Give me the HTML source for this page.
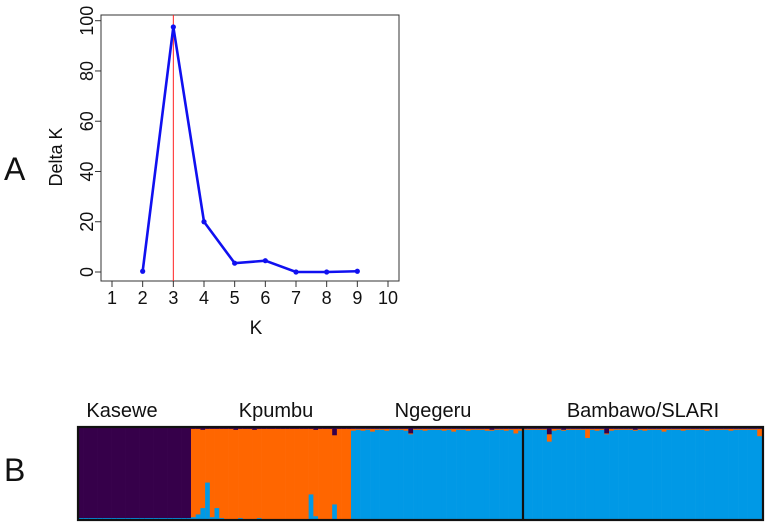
<!DOCTYPE html>
<html><head><meta charset="utf-8"><style>
html,body{margin:0;padding:0;background:#fff;}
svg text{font-family:"Liberation Sans",Arial,sans-serif;fill:#111;}
</style></head><body>
<svg id="fig" width="766" height="524" viewBox="0 0 766 524" xmlns="http://www.w3.org/2000/svg">
<text x="4" y="180" font-size="32">A</text>
<text x="4" y="481" font-size="32">B</text>
<g id="chartA"></g>
<g id="chartB"></g>
</svg>
<script>
const kValues=[2,3,4,5,6,7,8,9];
const deltaK=[0.3,97.5,20,3.5,4.5,0,0,0.3];
const xTicks=[1,2,3,4,5,6,7,8,9,10];
const yTicks=[0,20,40,60,80,100];
const bestK=3;
const popNames=["Kasewe","Kpumbu","Ngegeru","Bambawo/SLARI"];
const popCounts=[24,34,36,50];
const kaseweBlue=[0.01,0.01,0.01,0.01,0.01,0.01,0.01,0.01,0.01,0.01,0.01,0.01,0.01,0.01,0.01,0.01,0.01,0.01,0.01,0.01,0.01,0.01,0.01,0.01];
const kpumbuBlue=[0.02,0.05,0.12,0.4,0.02,0.12,0.01,0,0,0,0.01,0,0,0,0.01,0,0,0,0,0,0,0,0,0,0,0.27,0.03,0,0,0,0.16,0,0,0];
const kpumbuPurple=[0.01,0.01,0.02,0.01,0.01,0.01,0.01,0.01,0.01,0.02,0.01,0.01,0.01,0.02,0.01,0.01,0.01,0.01,0.01,0.01,0.01,0.01,0.01,0.01,0.01,0.01,0.02,0.01,0.01,0.01,0.08,0.01,0.01,0.01];
const ngegeruOrange=[0.02,0.01,0.02,0.01,0.03,0.01,0.01,0.02,0.01,0.01,0.01,0.02,0.01,0.01,0.01,0.02,0.01,0.01,0.01,0.02,0.01,0.03,0.01,0.01,0.02,0.01,0.01,0.01,0.02,0.01,0.01,0.01,0.02,0.01,0.05,0.02];
const ngegeruPurple=[0.01,0.01,0.01,0.01,0.01,0.01,0.01,0.01,0.01,0.01,0.01,0.01,0.06,0.01,0.01,0.01,0.01,0.01,0.01,0.01,0.01,0.01,0.01,0.01,0.01,0.01,0.01,0.01,0.01,0.02,0.01,0.01,0.01,0.01,0.01,0.01];
const bambawoOrange=[0.01,0.01,0.01,0.01,0.01,0.08,0.02,0.01,0.01,0.01,0.01,0.01,0.01,0.1,0.01,0.02,0.01,0.01,0.02,0.01,0.01,0.01,0.01,0.01,0.01,0.02,0.01,0.01,0.01,0.03,0.01,0.01,0.01,0.02,0.01,0.01,0.01,0.01,0.02,0.01,0.01,0.01,0.01,0.02,0.01,0.01,0.01,0.01,0.01,0.08];
const bambawoPurple=[0.01,0.01,0.01,0.01,0.01,0.07,0.01,0.01,0.02,0.01,0.01,0.01,0.01,0.01,0.01,0.01,0.01,0.06,0.01,0.01,0.01,0.01,0.01,0.02,0.01,0.01,0.01,0.01,0.01,0.01,0.01,0.01,0.01,0.01,0.01,0.01,0.01,0.01,0.01,0.01,0.01,0.01,0.01,0.01,0.01,0.01,0.01,0.01,0.01,0.01];

const NS="http://www.w3.org/2000/svg";
function mk(tag,attrs,parent){const e=document.createElementNS(NS,tag);for(const k in attrs)e.setAttribute(k,attrs[k]);parent.appendChild(e);return e;}
const A=document.getElementById('chartA');
const px0=101,px1=399,py0=15,py1=281;
const xS=k=>112+(k-1)*(388-112)/9;
const yS=v=>272-v*(272-20.7)/100;
let e;
e=mk('rect',{x:px0,y:py0,width:px1-px0,height:py1-py0,fill:'none',stroke:'#333','stroke-width':1},A);


xTicks.forEach(t=>{
 e=mk('line',{x1:xS(t),x2:xS(t),y1:py1,y2:py1+6,stroke:'#333'},A);
 
 
 e=mk('text',{x:xS(t),y:py1+23,'font-size':18,'text-anchor':'middle'},A);e.textContent=t;
 
 
});
yTicks.forEach(t=>{
 e=mk('line',{x1:px0-6,x2:px0,y1:yS(t),y2:yS(t),stroke:'#333'},A);
 
 
 e=mk('text',{x:0,y:0,'font-size':18,'text-anchor':'middle',transform:`translate(${px0-8},${yS(t)}) rotate(-90)`},A);e.textContent=t;
 
 
});
e=mk('text',{x:0,y:0,'font-size':18,'text-anchor':'middle',transform:`translate(62,157) rotate(-90)`},A);e.textContent='Delta K';


e=mk('text',{x:256,y:334,'font-size':19,'text-anchor':'middle'},A);e.textContent='K';


e=mk('line',{x1:xS(bestK),x2:xS(bestK),y1:py0,y2:py1,stroke:'#ff2020','stroke-width':1},A);


e=mk('polyline',{points:kValues.map((k,i)=>xS(k)+','+yS(deltaK[i])).join(' '),fill:'none',stroke:'#1010f0','stroke-width':2.6},A);


kValues.forEach((k,i)=>{
 e=mk('circle',{cx:xS(k),cy:yS(deltaK[i]),r:2.6,fill:'#1010f0'},A);
 
 
});
const B=document.getElementById('chartB');
const by0=428,by1=519,bh=by1-by0;
const PUR='#36004a',ORA='#ff6600',BLU='#0099e6';
const bounds=[79,191,351,523,762];
const labelCx=[122,276,433,643];
function bar(x,w,y,h,c){const r=mk('rect',{x:x,y:y,width:w+0.3,height:Math.max(0,h),fill:c},B);}
// bottom: minor from bottom; top: purple at top then orange below
function drawPop(p,main,bottomMinor,bottomCol,topPurple,topOrange){
 const n=popCounts[p],w=(bounds[p+1]-bounds[p])/n;
 for(let i=0;i<n;i++){
  const x=bounds[p]+i*w;
  bar(x,w,by0,bh,main);
  if(bottomMinor){const h=bottomMinor[i]*bh;bar(x,w,by1-h,h,bottomCol);}
  let y=by0;
  if(topPurple){const h=topPurple[i]*bh;bar(x,w,y,h,PUR);y+=h;}
  if(topOrange){const h=topOrange[i]*bh;bar(x,w,y,h,ORA);}
 }
}
drawPop(0,PUR,kaseweBlue,BLU,null,null);
drawPop(1,ORA,kpumbuBlue,BLU,kpumbuPurple,null);
drawPop(2,BLU,null,null,ngegeruPurple,ngegeruOrange);
drawPop(3,BLU,null,null,bambawoPurple,bambawoOrange);
e=mk('rect',{x:78,y:427,width:685,height:93,fill:'none',stroke:'#111','stroke-width':2.2},B);


e=mk('line',{x1:523,x2:523,y1:427,y2:520,stroke:'#111','stroke-width':2.2},B);


popNames.forEach((n,i)=>{
 e=mk('text',{x:labelCx[i],y:417,'font-size':20,'text-anchor':'middle'},B);e.textContent=n;
 
 
});
</script>
</body></html>
